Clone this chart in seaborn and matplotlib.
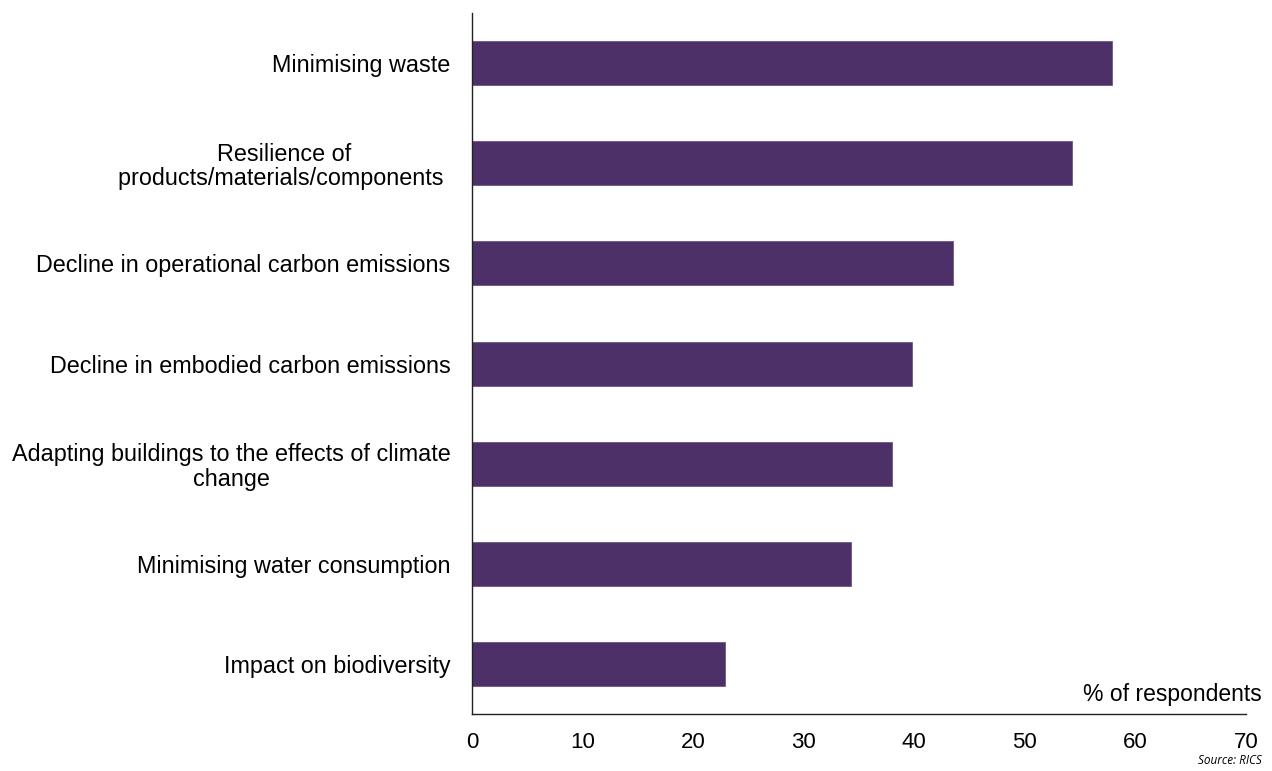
import matplotlib
matplotlib.use("Agg")
import matplotlib.pyplot as plt
import seaborn as sns
import pandas as pd

categories = [
    "Minimising waste",
    "Resilience of\nproducts/materials/components ",
    "Decline in operational carbon emissions",
    "Decline in embodied carbon emissions",
    "Adapting buildings to the effects of climate\nchange",
    "Minimising water consumption",
    "Impact on biodiversity",
]
values = [57.9, 54.3, 43.5, 39.8, 38.0, 34.3, 22.9]
x_ticks = [0, 10, 20, 30, 40, 50, 60, 70]

sns.set_style("white")
plt.rcParams['font.family'] = ['Liberation Sans', 'DejaVu Sans']

df = pd.DataFrame({"category": categories, "value": values})

fig = plt.figure(figsize=(12.72, 7.71), dpi=100)
ax = fig.add_axes([0.371, 0.074, 0.9796 - 0.371, 0.983 - 0.074])
sns.barplot(data=df, x="value", y="category", color="#4D3067", width=0.44,
            saturation=1, ax=ax, edgecolor="#6E5488", linewidth=0.6)

ax.set_xlim(0, 70)
ax.set_ylim(6.5, -0.5)
ax.set_xticks(x_ticks)
ax.set_xticklabels([str(t) for t in x_ticks], fontsize=16,
                   family=['Liberation Sans Narrow', 'Liberation Sans', 'DejaVu Sans'])
ax.set_xlabel("")
ax.set_ylabel("")
ax.tick_params(axis='x', length=0, pad=13)
ax.tick_params(axis='y', length=0, pad=15.5, labelsize=16.8)
for lab in ax.get_yticklabels():
    lab.set_multialignment('center')
    lab.set_linespacing(1.08)
    lab.set_color('black')
for lab in ax.get_xticklabels():
    lab.set_color('black')

for s in ["top", "right"]:
    ax.spines[s].set_visible(False)
for s in ["left", "bottom"]:
    ax.spines[s].set_color("#222222")
    ax.spines[s].set_linewidth(1.0)
ax.grid(False)

fig.text(1262 / 1272, 1 - 694 / 771, "% of respondents", ha="right", va="center",
         fontsize=16.5, color="black")
fig.text(1262 / 1272, 1 - 761 / 771, "Source: RICS", ha="right", va="center",
         fontsize=8.5, style="italic", color="black", family=["Open Sans", "DejaVu Sans"])

fig.savefig("out.png", dpi=100)
